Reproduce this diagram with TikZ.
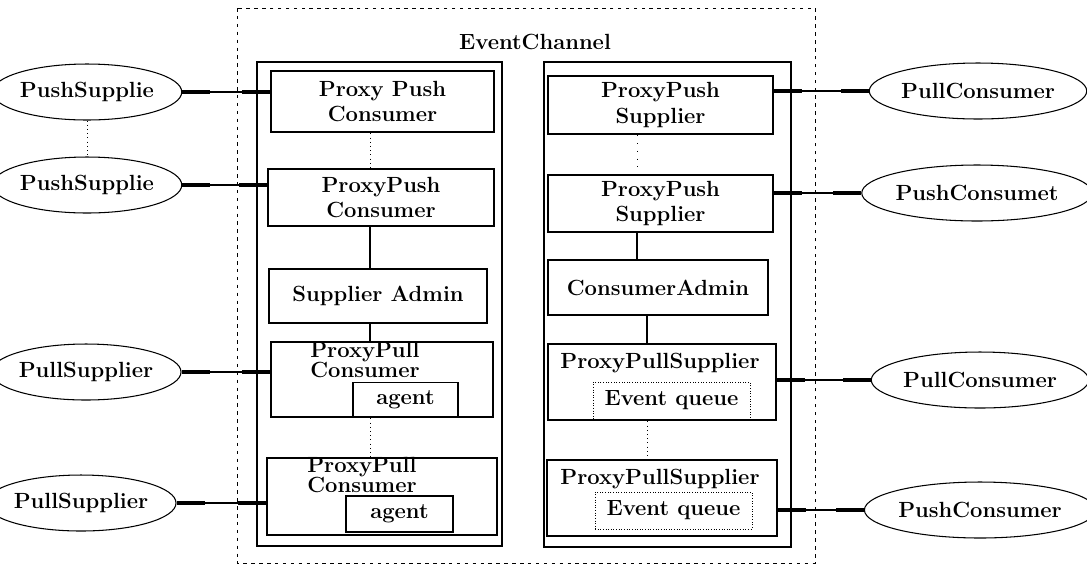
\documentclass[tikz,border=0pt]{standalone}
\usepackage{tikz}
\usetikzlibrary{arrows.meta,shapes.geometric}

\begin{document}
\begin{tikzpicture}
	[%%%%%%%%%%%%%%%%%%%%%%%%%%%%%%
	x=0.02cm,y=-0.02cm,
	every node/.style={font=\fontsize{12.5}{14.5}\selectfont\bfseries},
	box/.style={rectangle,draw=black,line width=1.5pt,inner sep=0pt},
	side/.style={rectangle,draw=black,line width=1pt,inner sep=0pt},
	inner/.style={rectangle,draw=black,line width=1pt,inner sep=0pt,minimum width=2.1cm,minimum height=0.7cm},
	queue/.style={rectangle,draw=black,densely dotted,line width=0.5pt,inner sep=0pt,minimum width=3.14cm,minimum height=0.74cm},
	client/.style={ellipse,draw=black,line width=0.6pt,inner sep=0pt,minimum height=1.12cm},
	link/.style={line width=0.6pt,{Rectangle[length=0.56cm,width=2.2pt]}-{Rectangle[length=0.56cm,width=2.2pt]}},
	spine/.style={line width=1pt},
	]%%%%%%%%%%%%%%%%%%%%%%%%%%%%%%
	
	\useasboundingbox (0,0) rectangle (1087,569);
	
	% event channel
	\draw[dash pattern=on 2pt off 2.5pt,line width=0.5pt] (237,8) rectangle (815,563);
	\node (chan) at (535,42) {EventChannel};
	\node[side,minimum width=4.9cm,minimum height=9.68cm] (leftside) at (379.5,304) {};
	\node[side,minimum width=4.94cm,minimum height=9.7cm] (rightside) at (667.5,304.5) {};
	
	% supplier side
	\node[box,minimum width=4.46cm,minimum height=1.22cm,align=center] (ppc1) at (382.5,101.5) {Proxy Push\\Consumer};
	\node[box,minimum width=4.52cm,minimum height=1.14cm,align=center] (ppc2) at (381,197.5) {ProxyPush\\Consumer};
	\node[box,minimum width=4.36cm,minimum height=1.08cm] (supadmin) at (378,296) {Supplier Admin};
	\node[box,minimum width=4.44cm,minimum height=1.5cm] (pplc1) at (382,379.5) {};
	\node[anchor=north,align=left,inner sep=1pt] (pplc1lbl) at (365,340) {ProxyPull\\[-3pt]Consumer};
	\node[inner] (agent1) at (405.5,400) {agent};
	\node[box,minimum width=4.6cm,minimum height=1.54cm] (pplc2) at (382,496.5) {};
	\node[anchor=north,align=left,inner sep=1pt] (pplc2lbl) at (362,455) {ProxyPull\\[-3pt]Consumer};
	\node[inner,minimum width=2.14cm,minimum height=0.72cm] (agent2) at (399.5,514) {agent};
	
	% consumer side
	\node[box,minimum width=4.5cm,minimum height=1.16cm,align=center] (pps1) at (660.5,105) {ProxyPush\\Supplier};
	\node[box,minimum width=4.5cm,minimum height=1.14cm,align=center] (pps2) at (660.5,203.5) {ProxyPush\\Supplier};
	\node[box,minimum width=4.4cm,minimum height=1.1cm] (conadmin) at (658,287.5) {ConsumerAdmin};
	\node[box,minimum width=4.56cm,minimum height=1.52cm] (ppls1) at (662,382) {};
	\node[anchor=north,inner sep=1pt] (ppls1lbl) at (660,351) {ProxyPullSupplier};
	\node[queue] (queue1) at (671.5,400.5) {Event queue};
	\node[box,minimum width=4.6cm,minimum height=1.52cm] (ppls2) at (662,498) {};
	\node[anchor=north,inner sep=1pt] (ppls2lbl) at (660,467) {ProxyPullSupplier};
	\node[queue] (queue2) at (673.5,510.5) {Event queue};
	
	% clients
	\node[client,minimum width=2.9cm] (pushsup1) at (87,92) {PushSupplie};
	\node[client,minimum width=2.98cm] (pushsup2) at (87,185) {PushSupplie};
	\node[client,minimum width=2.96cm] (pullsup1) at (86,372) {PullSupplier};
	\node[client,minimum width=2.96cm] (pullsup2) at (81,503) {PullSupplier};
	\node[client,minimum width=3.56cm] (pullcon1) at (978,91) {PullConsumer};
	\node[client,minimum width=3.42cm] (pushcon1) at (977,193) {PushConsumet};
	\node[client,minimum width=3.74cm] (pullcon2) at (980,380) {PullConsumer};
	\node[client,minimum width=3.78cm] (pushcon2) at (980,510) {PushConsumer};
	
	% links
	\draw[link] (pushsup1.east) -- (pushsup1.east -| ppc1.west);
	\draw[link] (pushsup2.east) -- (pushsup2.east -| ppc2.west);
	\draw[link] (pullsup1.east) -- (pullsup1.east -| pplc1.west);
	\draw[link] (pullsup2.east) -- (pullsup2.east -| pplc2.west);
	\draw[link] (pps1.east |- pullcon1.west) -- (pullcon1.west);
	\draw[link] (pps2.east |- pushcon1.west) -- (pushcon1.west);
	\draw[link] (ppls1.east |- pullcon2.west) -- (pullcon2.west);
	\draw[link] (ppls2.east |- pushcon2.west) -- (pushcon2.west);
	
	% admins
	\coordinate (lspine) at (370,0);
	\coordinate (rspine) at (637,0);
	\coordinate (rspine2) at (647,0);
	\draw[dotted] (pushsup1.south) -- (pushsup2.north);
	\draw[dotted] (ppc1.south -| lspine) -- (ppc2.north -| lspine);
	\draw[spine] (ppc2.south -| lspine) -- (supadmin.north -| lspine);
	\draw[spine] (supadmin.south -| lspine) -- (pplc1.north -| lspine);
	\draw[dotted] (pplc1.south -| lspine) -- (pplc2.north -| lspine);
	\draw[loosely dotted] (pps1.south -| rspine) -- (pps2.north -| rspine);
	\draw[spine] (pps2.south -| rspine) -- (conadmin.north -| rspine);
	\draw[spine] (conadmin.south -| rspine2) -- (ppls1.north -| rspine2);
	\draw[dotted] (ppls1.south -| rspine2) -- (ppls2.north -| rspine2);
	
\end{tikzpicture}
\end{document}
